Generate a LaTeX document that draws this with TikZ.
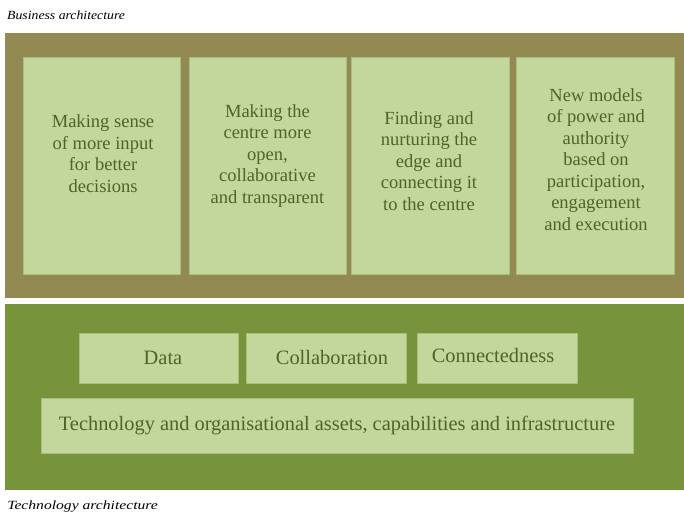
\documentclass[tikz,border=0pt]{standalone}
\usepackage{fontspec}
\setmainfont{Liberation Serif}
\definecolor{olive}{HTML}{938953}
\definecolor{leaf}{HTML}{77933C}
\definecolor{pale}{HTML}{C3D69B}
\definecolor{edge}{HTML}{A7BE7C}
\definecolor{ink}{HTML}{4F6228}
\begin{document}
\begin{tikzpicture}[x=1pt,y=-1pt,
  band/.style={fill=#1,draw=none},
  tile/.style={fill=pale,draw=edge,line width=0.8pt},
  words/.style={text=ink,align=center,font=\fontsize{17}{19.7}\selectfont,inner sep=0pt,transform shape,scale=1.09},
  bigwords/.style={text=ink,align=center,font=\fontsize{17}{20}\selectfont,inner sep=0pt,transform shape,scale=1.2},
  caption/.style={anchor=west,inner sep=0pt,font=\fontsize{12.5}{14}\selectfont\itshape,transform shape}]
\useasboundingbox (0,0) rectangle (684,518);
% two layers
\fill[band=olive] (5,33) rectangle (684,298);
\fill[band=leaf] (5,304) rectangle (684,490);
% business tiles
\node[tile,minimum width=157pt,minimum height=217pt] (b1) at (101.5,165.5) {};
\node[tile,minimum width=157pt,minimum height=217pt] (b2) at (267.5,165.5) {};
\node[tile,minimum width=158pt,minimum height=217pt] (b3) at (430,165.5) {};
\node[tile,minimum width=158pt,minimum height=217pt] (b4) at (595,165.5) {};
\node[words] (t1) at (103,153.5) {Making sense\\of more input\\for better\\decisions};
\node[words] (t2) at (267.5,156) {Making the\\centre more\\open,\\collaborative\\and transparent};
\node[words] (t3) at (429,161) {Finding and\\nurturing the\\edge and\\connecting it\\to the centre};
\node[words] (t4) at (596,159.5) {New models\\of power and\\authority\\based on\\participation,\\engagement\\and execution};
% technology tiles
\node[tile,minimum width=159pt,minimum height=50pt] (d1) at (159,358) {};
\node[tile,minimum width=160pt,minimum height=50pt] (d2) at (326,358) {};
\node[tile,minimum width=160pt,minimum height=50pt] (d3) at (497,358) {};
\node[tile,minimum width=592pt,minimum height=55pt] (base) at (337,426) {};
\node[bigwords] (l1) at ([xshift=4pt]d1) {Data};
\node[bigwords] (l2) at ([xshift=6pt]d2) {Collaboration};
\node[bigwords] (l3) at ([xshift=-4pt,yshift=2pt]d3) {Connectedness};
\node[bigwords] (l4) at (base) {Technology and organisational assets, capabilities and infrastructure};
% layer captions
\node[caption,xscale=1.1] (capA) at (7,15) {Business architecture};
\node[caption,xscale=1.25] (capB) at (7,507) {Technology architecture};
\end{tikzpicture}
\end{document}
